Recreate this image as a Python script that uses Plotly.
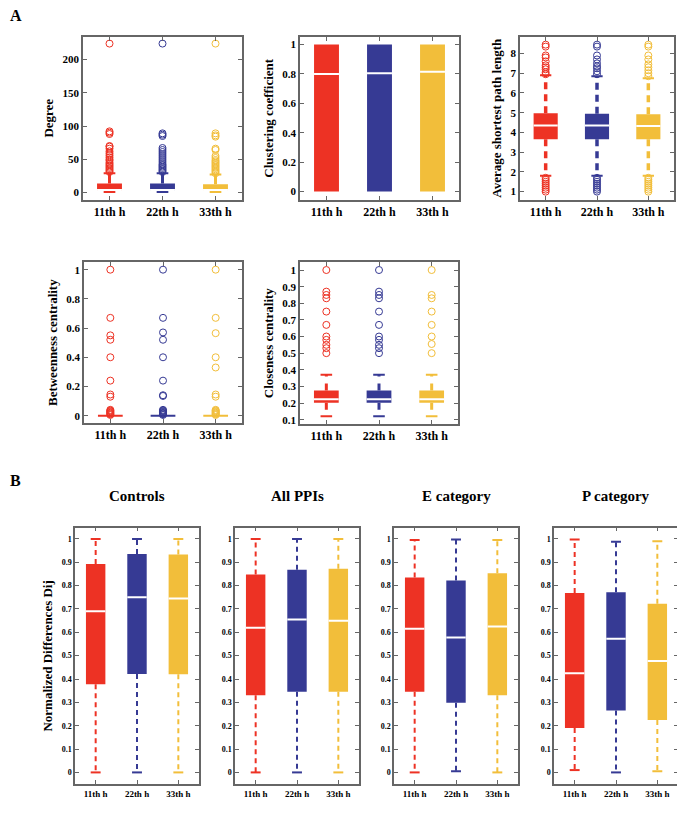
import plotly.graph_objects as go

W, H = 685, 813
categories = ["11th h", "22th h", "33th h"]
colors = ["#ED3224", "#363A94", "#F2BE3A"]

# ---- Panel A data (q1, median, q3, lower whisker, upper whisker, outliers) ----
degree_q1 = [2.5, 2.5, 2.5]
degree_med = [4.0, 4.0, 4.0]
degree_q3 = [13.5, 13.5, 12.5]
degree_lo = [1, 1, 1]
degree_hi = [29, 29, 27]
degree_out = [
    [31, 33, 35, 37, 39, 41, 43, 45, 48, 50, 53, 56, 59, 62, 66, 69, 70, 88, 90, 92, 224],
    [31, 33, 35, 37, 39, 41, 43, 46, 49, 52, 55, 58, 61, 64, 67, 85, 87, 89, 224],
    [29, 31, 33, 35, 37, 39, 41, 43, 45, 47, 49, 52, 55, 64, 66, 84, 86, 89, 224],
]

clust_q1 = [0, 0, 0]
clust_med = [0.80, 0.805, 0.815]
clust_q3 = [1, 1, 1]
clust_lo = [0, 0, 0]
clust_hi = [1, 1, 1]
clust_out = [[], [], []]

aspl_q1 = [3.65, 3.65, 3.65]
aspl_med = [4.35, 4.35, 4.33]
aspl_q3 = [4.97, 4.95, 4.92]
aspl_lo = [1.8, 1.8, 1.8]
aspl_hi = [6.9, 6.85, 6.75]
aspl_out = [
    [1.0, 1.1, 1.2, 1.3, 1.4, 1.5, 1.6, 1.7, 6.95, 7.05, 7.2, 7.3, 7.4, 7.6, 7.8, 7.9, 8.35, 8.45],
    [1.0, 1.1, 1.2, 1.3, 1.4, 1.5, 1.6, 1.7, 6.95, 7.1, 7.25, 7.35, 7.5, 7.7, 7.9, 8.35, 8.45],
    [1.0, 1.1, 1.2, 1.3, 1.4, 1.5, 1.6, 1.7, 6.85, 7.0, 7.15, 7.3, 7.45, 7.7, 7.9, 8.35, 8.45],
]

betw_q1 = [0, 0, 0]
betw_med = [0, 0, 0]
betw_q3 = [0, 0, 0]
betw_lo = [0, 0, 0]
betw_hi = [0, 0, 0]
betw_out = [
    [0.005, 0.01, 0.015, 0.02, 0.025, 0.03, 0.035, 0.04, 0.13, 0.145, 0.24, 0.40, 0.52, 0.55, 0.67, 1.0],
    [0.005, 0.01, 0.015, 0.02, 0.025, 0.03, 0.035, 0.04, 0.135, 0.14, 0.24, 0.40, 0.52, 0.57, 0.67, 1.0],
    [0.005, 0.01, 0.015, 0.02, 0.025, 0.03, 0.035, 0.04, 0.13, 0.145, 0.33, 0.40, 0.565, 0.67, 1.0],
]

clos_q1 = [0.202, 0.202, 0.202]
clos_med = [0.222, 0.222, 0.222]
clos_q3 = [0.276, 0.276, 0.276]
clos_lo = [0.12, 0.12, 0.12]
clos_hi = [0.37, 0.37, 0.37]
clos_out = [
    [0.50, 0.53, 0.55, 0.58, 0.60, 0.67, 0.75, 0.83, 0.85, 0.87, 1.0],
    [0.50, 0.53, 0.55, 0.58, 0.60, 0.67, 0.75, 0.83, 0.85, 0.87, 1.0],
    [0.50, 0.555, 0.60, 0.67, 0.75, 0.83, 0.85, 1.0],
]

# ---- Panel B data ----
b_titles = ["Controls", "All PPIs", "E category", "P category"]
controls_stats = [[0.378, 0.69, 0.893, 0.0, 1.0], [0.422, 0.75, 0.935, 0.0, 1.0], [0.42, 0.745, 0.933, 0.0, 1.0]]
allppi_stats = [[0.33, 0.62, 0.848, 0.0, 1.0], [0.345, 0.655, 0.868, 0.0, 1.0], [0.345, 0.65, 0.872, 0.0, 1.0]]
ecat_stats = [[0.345, 0.615, 0.835, 0.0, 0.995], [0.298, 0.578, 0.822, 0.005, 0.998], [0.33, 0.625, 0.853, 0.0, 0.995]]
pcat_stats = [[0.19, 0.425, 0.768, 0.01, 0.998], [0.265, 0.572, 0.772, 0.0, 0.988], [0.225, 0.477, 0.722, 0.005, 0.99]]

FONT = "Liberation Serif"
fig = go.Figure()
axis_count = [0]


def dom(px0, px1, py0, py1):
    return [px0 / W, px1 / W], [1 - py1 / H, 1 - py0 / H]


def add_panel(xd, yd, yrange, tickvals, ticktext, q1, med, q3, lo, hi, outl,
              ytitle, tick_size, box_w, whisk_w, cap_w, dash, title=None):
    axis_count[0] += 1
    n = axis_count[0]
    xa = "x" if n == 1 else f"x{n}"
    ya = "y" if n == 1 else f"y{n}"
    xpos = [i + 1 for i in range(len(categories))]
    for i in range(len(categories)):
        c = colors[i]
        x = xpos[i]
        fig.add_trace(go.Bar(x=[x], y=[q3[i] - q1[i]], base=[q1[i]], width=box_w,
                             marker=dict(color=c, line=dict(width=0)),
                             xaxis=xa, yaxis=ya, showlegend=False, hoverinfo="skip"))
        fig.add_trace(go.Scatter(x=[x, x, None, x, x], y=[q3[i], hi[i], None, q1[i], lo[i]],
                                 mode="lines", line=dict(color=c, width=whisk_w, dash=dash),
                                 xaxis=xa, yaxis=ya, showlegend=False, hoverinfo="skip"))
        fig.add_trace(go.Scatter(x=[x - cap_w / 2, x + cap_w / 2, None, x - cap_w / 2, x + cap_w / 2],
                                 y=[hi[i], hi[i], None, lo[i], lo[i]],
                                 mode="lines", line=dict(color=c, width=2),
                                 xaxis=xa, yaxis=ya, showlegend=False, hoverinfo="skip"))
        mcol = "white" if q3[i] > q1[i] else c
        fig.add_trace(go.Scatter(x=[x - box_w / 2, x + box_w / 2], y=[med[i], med[i]],
                                 mode="lines", line=dict(color=mcol, width=2),
                                 xaxis=xa, yaxis=ya, showlegend=False, hoverinfo="skip"))
        if outl is not None and len(outl[i]) > 0:
            fig.add_trace(go.Scatter(x=[x] * len(outl[i]), y=outl[i], mode="markers",
                                     marker=dict(symbol="circle-open", size=7, color=c,
                                                 line=dict(width=1, color=c)),
                                     xaxis=xa, yaxis=ya, showlegend=False, hoverinfo="skip"))
    axstyle = dict(showline=True, linecolor="#666666", linewidth=1.5, mirror="ticks",
                   ticks="inside", ticklen=4, tickcolor="#666666", showgrid=False, zeroline=False)
    fig.layout[f"xaxis{'' if n == 1 else n}"] = dict(
        domain=xd, range=[0.5, 3.5], anchor=ya, tickvals=xpos, ticktext=categories,
        tickfont=dict(family=FONT, size=tick_size + 1, color="black", weight="bold"), **axstyle)
    fig.layout[f"yaxis{'' if n == 1 else n}"] = dict(
        domain=yd, range=yrange, anchor=xa, tickvals=tickvals, ticktext=ticktext,
        tickfont=dict(family=FONT, size=tick_size, color="black", weight="bold"),
        title=dict(text=ytitle, font=dict(family=FONT, size=13, color="black", weight="bold"), standoff=6),
        **axstyle)
    if title:
        fig.add_annotation(text=title, xref=f"{xa} domain", yref=f"{ya} domain", x=0.5, y=1.0,
                           yshift=22, showarrow=False, xanchor="center", yanchor="bottom",
                           font=dict(family=FONT, size=15, color="black", weight="bold"))


def fmt(v):
    return f"{v:g}"


xd, yd = dom(75, 234, 29, 192)
tv = [0, 50, 100, 150, 200]
add_panel(xd, yd, [-10.5, 234], tv, [fmt(v) for v in tv], degree_q1, degree_med, degree_q3,
          degree_lo, degree_hi, degree_out, "Degree", 11, 0.47, 3, 0.22, "solid")

xd, yd = dom(292, 451, 29, 192)
tv = [0, 0.2, 0.4, 0.6, 0.8, 1]
add_panel(xd, yd, [-0.054, 1.052], tv, [fmt(v) for v in tv], clust_q1, clust_med, clust_q3,
          clust_lo, clust_hi, clust_out, "Clustering coefficient", 11, 0.47, 3, 0.0, "solid")

xd, yd = dom(512, 666, 29, 192)
tv = [1, 2, 3, 4, 5, 6, 7, 8]
add_panel(xd, yd, [0.6, 8.84], tv, [fmt(v) for v in tv], aspl_q1, aspl_med, aspl_q3,
          aspl_lo, aspl_hi, aspl_out, "Average shortest path length", 11, 0.47, 3.5, 0.22, "7px,5px")

xd, yd = dom(76, 234, 255, 416)
tv = [0, 0.2, 0.4, 0.6, 0.8, 1]
add_panel(xd, yd, [-0.05, 1.05], tv, [fmt(v) for v in tv], betw_q1, betw_med, betw_q3,
          betw_lo, betw_hi, betw_out, "Betweenness centrality", 11, 0.47, 2, 0.0, "solid")

xd, yd = dom(292, 450, 255, 417)
tv = [0.1, 0.2, 0.3, 0.4, 0.5, 0.6, 0.7, 0.8, 0.9, 1]
add_panel(xd, yd, [0.074, 1.046], tv, [fmt(v) for v in tv], clos_q1, clos_med, clos_q3,
          clos_lo, clos_hi, clos_out, "Closeness centrality", 11, 0.47, 3, 0.22, "7px,7px")

b_stats = [controls_stats, allppi_stats, ecat_stats, pcat_stats]
b_left = [67, 227, 386, 546]
tv = [0, 0.1, 0.2, 0.3, 0.4, 0.5, 0.6, 0.7, 0.8, 0.9, 1]
for k in range(4):
    st = b_stats[k]
    xd, yd = dom(b_left[k], b_left[k] + 124, 521, 778)
    add_panel(xd, yd, [-0.05, 1.048], tv, [fmt(v) for v in tv],
              [s[0] for s in st], [s[1] for s in st], [s[2] for s in st],
              [s[3] for s in st], [s[4] for s in st], None,
              "Normalized Differences Dij" if k == 0 else "", 8, 0.47, 2, 0.24, "5px,4px",
              title=b_titles[k])

fig.add_annotation(text="A", xref="paper", yref="paper", x=0, y=1, xshift=0, yshift=3,
                   showarrow=False, xanchor="left", yanchor="top",
                   font=dict(family=FONT, size=16, color="black", weight="bold"))
fig.add_annotation(text="B", xref="paper", yref="paper", x=0, y=1 - 466 / H, xshift=0, yshift=3,
                   showarrow=False, xanchor="left", yanchor="top",
                   font=dict(family=FONT, size=16, color="black", weight="bold"))

fig.update_layout(width=W, height=H, margin=dict(l=0, r=0, t=0, b=0),
                  paper_bgcolor="white", plot_bgcolor="white", barmode="overlay", showlegend=False)
fig.write_html("out.html")
